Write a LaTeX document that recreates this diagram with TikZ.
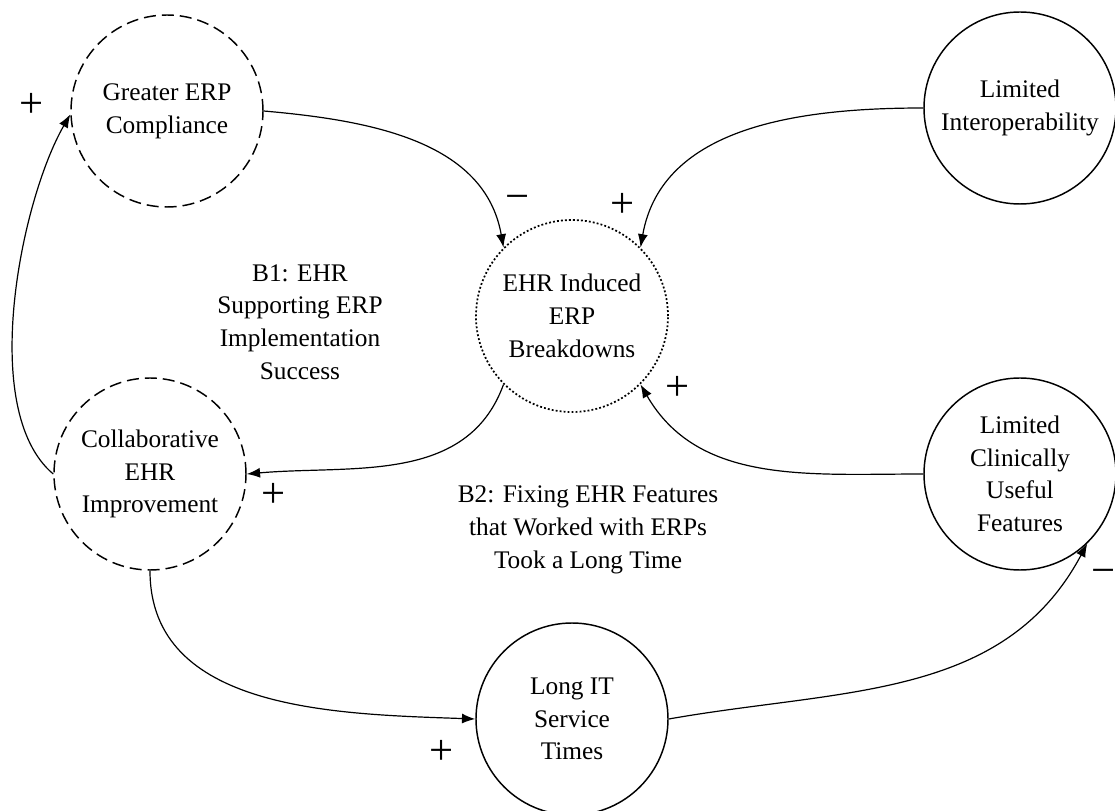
\documentclass[tikz,border=0pt]{standalone}
\usepackage{fontspec}
\setmainfont{Liberation Serif}
\usetikzlibrary{arrows.meta}

\begin{document}
\begin{tikzpicture}[x = 0.75pt, y = 0.75pt,
    var/.style = {circle, draw, line width = 1.1pt, minimum size = 144pt, inner sep = 0pt,
      align = center, font = \fontsize{19}{24.5}\selectfont},
    dashvar/.style = {var, dash pattern = on 9pt off 4.5pt},
    dotvar/.style = {var, dash pattern = on 1.4pt off 1.6pt, line width = 1.3pt},
    link/.style = {-{Latex[length = 10pt, width = 7.5pt]}, line width = 0.9pt},
    sign/.style = {font = \fontsize{32}{34}\selectfont},
    looplabel/.style = {align = center, font = \fontsize{19}{24.5}\selectfont}]
  \useasboundingbox (0,0) rectangle (1115,811);

  \node[dashvar] (compliance) at (167,700) {Greater ERP\\Compliance};
  \node[var] (interop) at (1020,703) {Limited\\Interoperability};
  \node[dotvar] (breakdowns) at (572,495) {EHR Induced\\ERP\\Breakdowns};
  \node[dashvar] (improve) at (150,337) {Collaborative\\EHR\\Improvement};
  \node[var] (features) at (1020,337) {Limited\\Clinically\\Useful\\Features};
  \node[var] (service) at (572,92) {Long IT\\Service\\Times};

  \node[looplabel] (bone) at (300,489) {B1: EHR\\Supporting ERP\\Implementation\\Success};
  \node[looplabel] (btwo) at (588,281) {B2: Fixing EHR Features\\that Worked with ERPs\\Took a Long Time};

  \draw[link] (compliance.east) to[out = -5, in = 100] (breakdowns.135);
  \draw[link] (interop.west) to[out = 180, in = 80] (breakdowns.45);
  \draw[link] (breakdowns.225) to[out = 250, in = 5] (improve.east);
  \draw[link] (features.west) to[out = 180, in = -60] (breakdowns.-45);
  \draw[link] (improve.west) to[out = 140, in = 240, looseness = 0.7] (compliance.182);
  \draw[link] (improve.south) to[out = -90, in = 178] (service.west);
  \draw[link] (service.east) to[out = 10, in = 242] (features.-46);

  \node[sign] (s1) at (518,608) {−};
  \node[sign] (s2) at (623,606) {+};
  \node[sign] (s3) at (274,316) {+};
  \node[sign] (s4) at (678,423) {+};
  \node[sign] (s5) at (32,706) {+};
  \node[sign] (s6) at (442,59) {+};
  \node[sign] (s7) at (1104,234) {−};
\end{tikzpicture}
\end{document}
